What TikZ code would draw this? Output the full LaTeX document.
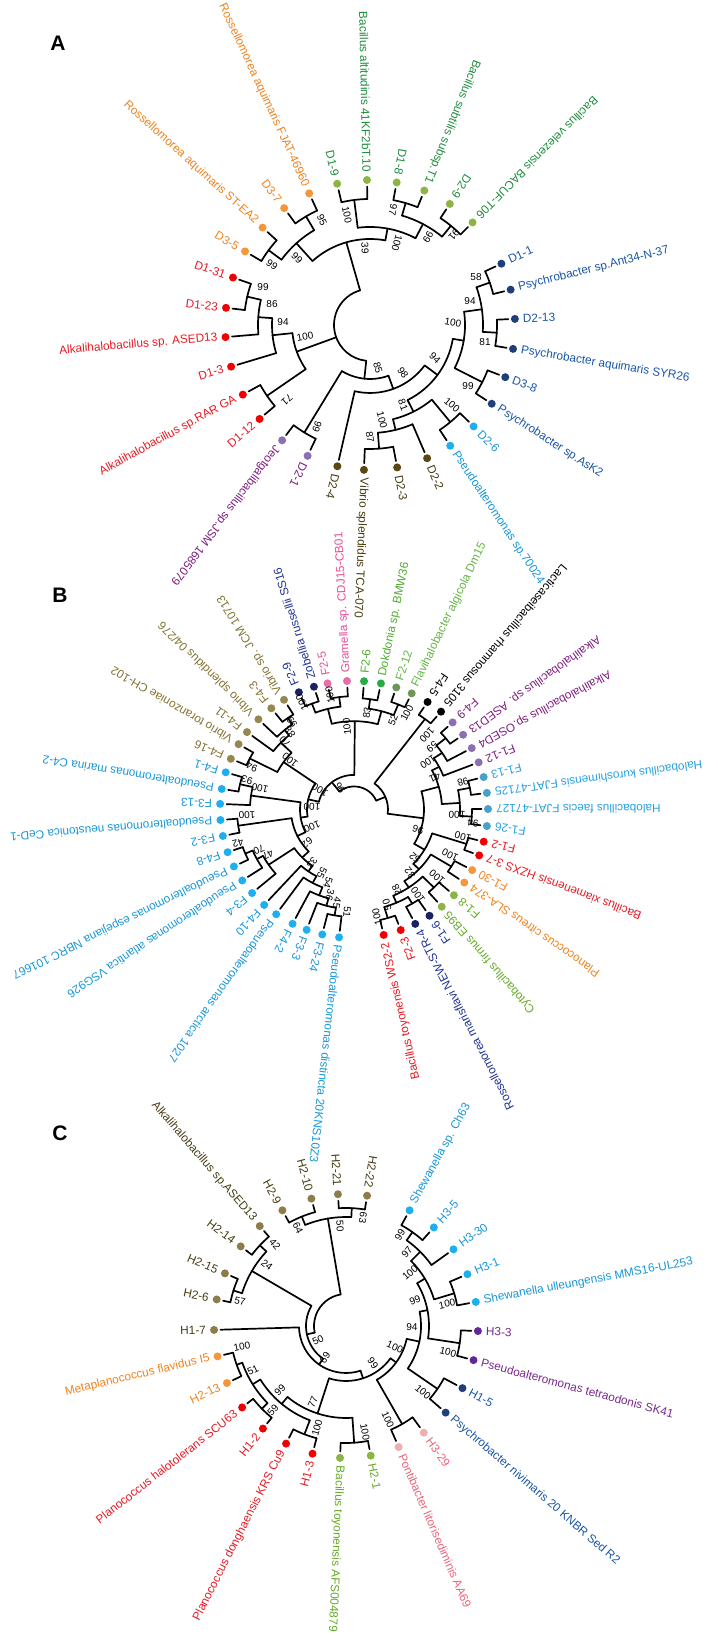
\documentclass[tikz,border=0pt]{standalone}
\usepackage{fontspec}
\setmainfont{Liberation Sans}
\definecolor{gAd}{RGB}{141,180,69}\definecolor{gAt}{RGB}{30,140,60}
\definecolor{bAd}{RGB}{31,63,122}\definecolor{bAt}{RGB}{25,85,165}
\definecolor{cyd}{RGB}{30,175,240}\definecolor{cyt}{RGB}{25,150,215}
\definecolor{vAd}{RGB}{90,72,20}\definecolor{vAt}{RGB}{70,60,15}
\definecolor{pAd}{RGB}{140,110,180}\definecolor{pAt}{RGB}{125,30,125}
\definecolor{rd}{RGB}{240,0,0}\definecolor{rt}{RGB}{230,25,35}
\definecolor{ord}{RGB}{245,150,60}\definecolor{ort}{RGB}{240,130,30}
\definecolor{olBd}{RGB}{150,135,80}\definecolor{olBt}{RGB}{130,115,50}
\definecolor{nvd}{RGB}{25,35,95}\definecolor{nvt}{RGB}{30,50,150}
\definecolor{pkd}{RGB}{230,110,170}\definecolor{pkt}{RGB}{230,80,150}
\definecolor{gnd}{RGB}{40,170,70}\definecolor{gnt}{RGB}{80,170,50}
\definecolor{ggd}{RGB}{110,150,90}\definecolor{ggt}{RGB}{100,180,70}
\definecolor{hbd}{RGB}{70,160,200}\definecolor{hbt}{RGB}{40,160,220}
\definecolor{lgd}{RGB}{140,180,70}\definecolor{lgt}{RGB}{100,170,40}
\definecolor{olCd}{RGB}{140,125,75}\definecolor{olCt}{RGB}{70,60,20}
\definecolor{pnd}{RGB}{240,175,175}\definecolor{pnt}{RGB}{235,100,120}
\definecolor{puCd}{RGB}{100,40,150}\definecolor{puCt}{RGB}{120,40,140}
\newcommand\lfW[6]{%
  \node[dot,fill=#4] (#1) at (#2:\R) {};
  \node[lbl,text=#5,anchor=west,rotate=#2] (#1-t) at (#2:{\R+8}) {#6};
  \draw[br] (#1) -- (#2:#3);}
\newcommand\lfE[6]{%
  \node[dot,fill=#4] (#1) at (#2:\R) {};
  \node[lbl,text=#5,anchor=east,rotate={#2+180}] (#1-t) at (#2:{\R+8}) {#6};
  \draw[br] (#1) -- (#2:#3);}
\newcommand\cl[5]{%
  \draw[br] (#1:#3) arc[start angle=#1, end angle=#2, radius=#3];
  \draw[br] (#4:#3) -- (#4:#5);}
\newcommand\bs[5]{\node[bsl,rotate=#4] (#1) at (#2,#3) {#5};}
\begin{document}
\begin{tikzpicture}[x=1pt,y=1pt,
  br/.style={line width=1.7pt,black,line cap=round},
  dot/.style={circle,inner sep=0pt,minimum size=8pt,outer sep=2.5pt,draw=none},
  lbl/.style={inner sep=0pt,font=\fontsize{11.8}{12}\selectfont},
  bsl/.style={inner sep=0pt,font=\fontsize{10}{11}\selectfont},
  ttl/.style={font=\fontsize{21}{24}\selectfont\bfseries}]
\useasboundingbox (0,0) rectangle (717,1637);
\node[ttl] (tA) at (58,1594) {A};
\node[ttl] (tB) at (60,1042) {B};
\node[ttl] (tC) at (60,504) {C};
% ================= A =================
\begin{scope}[shift={(370,1312)}]
\def\R{145}
\lfE{aD19}{103.1}{126}{gAd}{gAt}{D1-9}
\lfE{aAlt}{91.2}{126}{gAd}{gAt}{Bacillus altitudinis 41KF2bT.10}
\lfE{aD18}{79.4}{127}{gAd}{gAt}{D1-8}
\lfE{aSub}{68}{127}{gAd}{gAt}{Bacillus subtilis subsp.T1}
\lfE{aD29}{56.6}{128}{gAd}{gAt}{D2-9}
\lfE{aVel}{45}{128}{gAd}{gAt}{Bacillus velezensis BACUF-T06}
\lfW{aD11}{25}{127}{bAd}{bAt}{D1-1}
\lfW{aAnt}{14.1}{127}{bAd}{bAt}{Psychrobacter sp.Ant34-N-37}
\lfW{aD213}{2.4}{127}{bAd}{bAt}{D2-13}
\lfW{aSYR}{-9.5}{127}{bAd}{bAt}{Psychrobacter aquimaris SYR26}
\lfW{aD38}{-21.1}{126}{bAd}{bAt}{D3-8}
\lfW{aAsK}{-32.9}{126}{bAd}{bAt}{Psychrobacter sp.AsK2}
\lfW{aD26}{-44.4}{126}{cyd}{cyt}{D2-6}
\lfW{aPs}{-56.4}{126}{cyd}{cyt}{Pseudoalteromonas sp.70024}
\lfW{aD22}{-66.8}{108}{vAd}{vAt}{D2-2}
\lfW{aD23}{-79.2}{124}{vAd}{vAt}{D2-3}
\lfW{aTCA}{-92.4}{124}{vAd}{vAt}{Vibrio splendidus TCA-070}
\lfW{aD24}{-103}{68}{vAd}{vAt}{D2-4}
\lfW{aD21}{-115.5}{126}{pAd}{pAt}{D2-1}
\lfW{aJeo}{-127.3}{126}{pAd}{pAt}{Jeotgalibacillus sp.JSM 1685079}
\lfE{aD112}{220.4}{125}{rd}{rt}{D1-12}
\lfE{aRAR}{208.7}{125}{rd}{rt}{Alkalihalobacillus sp.RAR GA}
\lfE{aD13}{196.7}{98}{rd}{rt}{D1-3}
\lfE{aASE}{184.8}{112}{rd}{rt}{Alkalihalobacillus sp. ASED13}
\lfE{aD123}{173.2}{126}{rd}{rt}{D1-23}
\lfE{aD131}{160.9}{126}{rd}{rt}{D1-31}
\lfE{aD35}{149.5}{126}{ord}{ort}{D3-5}
\lfE{aST}{137.8}{126}{ord}{ort}{Rossellomorea aquimaris ST-EA2}
\lfE{aD37}{126.3}{126}{ord}{ort}{D3-7}
\lfE{aFJ}{114.8}{126}{ord}{ort}{Rossellomorea aquimaris FJAT-46960}
\cl{91.2}{103.1}{126}{97.2}{98}
\cl{68}{79.4}{127}{73.7}{114}
\cl{45}{56.6}{128}{50.8}{114}
\cl{50.8}{73.7}{114}{62.3}{98}
\cl{62.3}{97.2}{98}{79.7}{86}
\cl{137.8}{149.5}{126}{143.6}{110}
\cl{114.8}{126.3}{126}{120.5}{110}
\cl{120.5}{143.6}{110}{132}{86}
\cl{79.7}{132}{86}{106}{36}
\cl{160.9}{173.2}{126}{167}{112}
\cl{167}{184.8}{112}{176}{98}
\cl{176}{196.7}{98}{186}{78}
\cl{208.7}{220.4}{125}{214.5}{78}
\cl{186}{214.5}{78}{200}{36}
\cl{232.7}{244.5}{126}{238.6}{54}
\cl{14.1}{25}{127}{19.5}{113}
\cl{-9.5}{2.4}{127}{-3.5}{113}
\cl{-3.5}{19.5}{113}{8}{95}
\cl{-32.9}{-21.1}{126}{-27}{95}
\cl{-27}{8}{95}{-9.5}{84}
\cl{-56.4}{-44.4}{126}{-50.4}{97}
\cl{-92.4}{-79.2}{124}{-85.8}{108}
\cl{-85.8}{-66.8}{108}{-76.3}{97}
\cl{-76.3}{-50.4}{97}{-63.4}{84}
\cl{-63.4}{-9.5}{84}{-36.5}{68}
\cl{-103}{-36.5}{68}{-70}{54}
\cl{-121.4}{-70}{54}{-96}{36}
\draw[br] (106:36) arc[start angle=106, end angle=264, radius=36];
\end{scope}
\bs{bA1}{322}{1417}{-65}{95}
\bs{bA2}{297}{1379}{-45}{99}
\bs{bA3}{272}{1372}{-35}{99}
\bs{bA4}{347}{1422}{-78}{100}
\bs{bA5}{393}{1427}{-100}{97}
\bs{bA6}{428}{1400}{-120}{99}
\bs{bA7}{454}{1402}{-130}{91}
\bs{bA8}{397}{1394}{-105}{100}
\bs{bA9}{365}{1389}{-88}{39}
\bs{bA10}{476}{1360}{0}{58}
\bs{bA11}{263}{1350}{0}{99}
\bs{bA12}{272}{1333}{0}{86}
\bs{bA13}{283}{1315}{0}{94}
\bs{bA14}{305}{1300}{10}{100}
\bs{bA15}{287}{1237}{-140}{71}
\bs{bA16}{317}{1210}{-110}{99}
\bs{bA17}{470}{1336}{0}{94}
\bs{bA18}{453}{1314}{-10}{100}
\bs{bA19}{485}{1295}{0}{81}
\bs{bA20}{435}{1279}{-45}{94}
\bs{bA21}{403}{1264}{-55}{98}
\bs{bA22}{378}{1269}{-75}{85}
\bs{bA23}{468}{1251}{0}{99}
\bs{bA24}{452}{1232}{-40}{100}
\bs{bA25}{403}{1232}{-70}{81}
\bs{bA26}{382}{1217}{-75}{100}
\bs{bA27}{370}{1200}{-80}{87}
% ================= B =================
\begin{scope}[shift={(354,827.5)},yscale=0.96]
\def\R{134}
\lfW{bGra}{93}{118}{pkd}{pkt}{Gramella sp. CDJ15-CB01}
\lfW{bF25}{101.4}{118}{pkd}{pkt}{F2-5}
\lfW{bZob}{107.4}{118}{nvd}{nvt}{Zobellia russellii SS16}
\lfW{bF29}{114.3}{118}{nvd}{nvt}{F2-9}
\lfW{bJCM}{121.5}{116}{olBd}{olBt}{Vibrio sp. JCM 10713}
\lfW{bF43}{128.1}{116}{olBd}{olBt}{F4-3}
\lfW{bVsp}{135.5}{108}{olBd}{olBt}{Vibrio splendidus 04/276}
\lfW{bF411}{143}{101}{olBd}{olBt}{F4-11}
\lfW{bVto}{149.5}{117}{olBd}{olBt}{Vibrio toranzoniae CH-102}
\lfW{bF416}{156.8}{117}{olBd}{olBt}{F4-16}
\lfW{bF41}{163.2}{117}{cyd}{cyt}{F4-1}
\lfW{bPma}{170.8}{117}{cyd}{cyt}{Pseudoalteromonas marina C4-2}
\lfW{bF313}{177.5}{104}{cyd}{cyt}{F3-13}
\lfW{bPne}{184.7}{117}{cyd}{cyt}{Pseudoalteromonas neustonica CeD-1}
\lfW{bF32}{191.9}{117}{cyd}{cyt}{F3-2}
\lfW{bF48}{199.4}{118}{cyd}{cyt}{F4-8}
\lfW{bPes}{206.3}{118}{cyd}{cyt}{Pseudoalteromonas espejiana NBRC 101667}
\lfW{bPat}{213.5}{110}{cyd}{cyt}{Pseudoalteromonas atlantica VSG926}
\lfW{bF34}{220.5}{103}{cyd}{cyt}{F3-4}
\lfW{bF410}{227.9}{79}{cyd}{cyt}{F4-10}
\lfW{bPar}{234.5}{87}{cyd}{cyt}{Pseudoalteromonas arctica 1027}
\lfW{bF42}{242.7}{96}{cyd}{cyt}{F4-2}
\lfW{bF33}{249.3}{104}{cyd}{cyt}{F3-3}
\lfW{bF324}{256.3}{112}{cyd}{cyt}{F3-24}
\lfW{bPdi}{263.6}{112}{cyd}{cyt}{Pseudoalteromonas distincta 20KNS10Z3}
\lfE{bWS}{-77.2}{118}{rd}{rt}{Bacillus toyonensis WS2-2}
\lfE{bF23}{-69.6}{118}{rd}{rt}{F2-3}
\lfE{bNEW}{-62.8}{114}{nvd}{nvt}{Rossellomorea marisflavi NEW-STR-4}
\lfE{bF16}{-55.7}{114}{nvd}{nvt}{F1-6}
\lfE{bEB}{-49.1}{114}{lgd}{lgt}{Cytobacillus firmus EB95}
\lfE{bF18}{-41.8}{114}{lgd}{lgt}{F1-8}
\lfE{bSLA}{-34.6}{114}{ord}{ort}{Planococcus citreus SLA-374}
\lfE{bF130}{-28.1}{114}{ord}{ort}{F1-30}
\lfE{bHZ}{-20.9}{118}{rd}{rt}{Bacillus xiamenensis HZXS 3-7}
\lfE{bF12}{-14.5}{118}{rd}{rt}{F1-2}
\lfE{bF126}{-7.4}{118}{hbd}{hbt}{F1-26}
\lfE{bHfa}{0.2}{118}{hbd}{hbt}{Halobacillus faecis FJAT-47127}
\lfE{bHku}{7.4}{118}{hbd}{hbt}{Halobacillus kuroshimensis FJAT-47125}
\lfE{bF113}{14.6}{118}{hbd}{hbt}{F1-13}
\lfE{bF112}{21.5}{96}{pAd}{pAt}{F1-12}
\lfE{bOSE}{28.5}{106}{pAd}{pAt}{Alkalihalobacillus sp.OSED4}
\lfE{bASE}{35.5}{118}{pAd}{pAt}{Alkalihalobacillus sp. ASED13}
\lfE{bF49}{42.6}{118}{pAd}{pAt}{F4-9}
\lfE{bLac}{49.5}{118}{black}{black}{Lacticaseibacillus rhamnosus 3105}
\lfE{bF45}{56.7}{118}{black}{black}{F4-5}
\lfW{bFla}{64.5}{118}{ggd}{ggt}{Flavihalobacter algicola Dm15}
\lfW{bF212}{71.6}{118}{ggd}{ggt}{F2-12}
\lfW{bDok}{78.4}{116}{gnd}{gnt}{Dokdonia sp. BMW36}
\lfW{bF26}{85.7}{116}{gnd}{gnt}{F2-6}
% top group
\cl{107.4}{114.3}{118}{110.9}{108}
\cl{93}{101.4}{118}{97.2}{108}
\cl{97.2}{110.9}{108}{104}{92}
\cl{78.4}{85.7}{116}{82}{106}
\cl{64.5}{71.6}{118}{68}{106}
\cl{68}{82}{106}{75}{92}
\cl{75}{104}{92}{89.5}{36}
% vibrio
\cl{121.5}{128.1}{116}{124.8}{108}
\cl{124.8}{135.5}{108}{130}{101}
\cl{130}{143}{101}{136.5}{86}
\cl{149.5}{156.8}{117}{153}{86}
\cl{136.5}{153}{86}{145}{47}
% pseudoalteromonas
\cl{163.2}{170.8}{117}{167}{104}
\cl{167}{177.5}{104}{172}{54}
\cl{184.7}{191.9}{117}{188.3}{63}
\cl{199.4}{206.3}{118}{202.9}{110}
\cl{202.9}{213.5}{110}{208}{103}
\cl{208}{220.5}{103}{214}{72}
\cl{256.3}{263.6}{112}{260}{104}
\cl{249.3}{260}{104}{254.6}{96}
\cl{242.7}{254.6}{96}{248.7}{87}
\cl{234.5}{248.7}{87}{241.6}{79}
\cl{227.9}{241.6}{79}{234.7}{72}
\cl{214}{234.7}{72}{224}{63}
\cl{188.3}{224}{63}{206}{54}
\cl{172}{206}{54}{189}{47}
\cl{145}{189}{47}{167}{36}
\cl{89.5}{167}{36}{128}{24}
% right side
\cl{35.5}{42.6}{118}{39}{106}
\cl{28.5}{39}{106}{33.8}{96}
\cl{21.5}{33.8}{96}{27.6}{88}
\cl{7.4}{14.6}{118}{11}{106}
\cl{-7.4}{0.2}{118}{-3.6}{106}
\cl{-3.6}{11}{106}{3.7}{88}
\cl{3.7}{27.6}{88}{15.6}{70}
\cl{-20.9}{-14.5}{118}{-17.7}{82}
\cl{-34.6}{-28.1}{114}{-31.4}{90}
\cl{-49.1}{-41.8}{114}{-45.5}{98}
\cl{-62.8}{-55.7}{114}{-59.3}{106}
\cl{-77.2}{-69.6}{118}{-73.4}{106}
\cl{-73.4}{-59.3}{106}{-66.4}{98}
\cl{-66.4}{-45.5}{98}{-56}{90}
\cl{-56}{-31.4}{90}{-43.7}{82}
\cl{-43.7}{-17.7}{82}{-30.7}{70}
\cl{-30.7}{15.6}{70}{-7.5}{34}
\cl{49.5}{56.7}{118}{53}{34}
\cl{-7.5}{53}{34}{22.7}{24}
\draw[br] (22.7:24) arc[start angle=22.7, end angle=128, radius=24];
\end{scope}
\bs{bB1}{302}{935}{115}{100}
\bs{bB2}{330}{942}{101}{100}
\bs{bB3}{347}{910}{95}{100}
\bs{bB4}{292}{915}{124}{99}
\bs{bB5}{290}{905}{128}{88}
\bs{bB6}{285}{895}{134}{70}
\bs{bB7}{290}{877}{141}{100}
\bs{bB8}{252}{870}{156}{94}
\bs{bB9}{247}{857}{164}{93}
\bs{bB10}{260}{849}{167}{100}
\bs{bB11}{247}{822}{183}{100}
\bs{bB12}{312}{830}{177}{100}
\bs{bB13}{340}{849}{122}{96}
\bs{bB14}{320}{847}{149}{100}
\bs{bB15}{312}{810}{203}{100}
\bs{bB16}{307}{794}{217}{62}
\bs{bB17}{238}{794}{197}{42}
\bs{bB18}{259}{787}{204}{70}
\bs{bB19}{268}{782}{209}{47}
\bs{bB20}{312}{774}{233}{33}
\bs{bB21}{322}{764}{244}{55}
\bs{bB22}{328}{754}{251}{54}
\bs{bB23}{330}{742}{255}{36}
\bs{bB24}{337}{734}{260}{45}
\bs{bB25}{347}{725}{266}{51}
\bs{bB26}{367}{924}{83}{83}
\bs{bB27}{393}{917}{67}{52}
\bs{bB28}{407}{924}{62}{100}
\bs{bB29}{427}{902}{227}{100}
\bs{bB30}{432}{890}{220}{59}
\bs{bB31}{428}{875}{214}{100}
\bs{bB32}{435}{859}{202}{41}
\bs{bB33}{463}{855}{195}{98}
\bs{bB34}{457}{822}{177}{100}
\bs{bB35}{473}{814}{173}{94}
\bs{bB36}{418}{807}{161}{96}
\bs{bB37}{463}{800}{165}{100}
\bs{bB38}{415}{779}{140}{52}
\bs{bB39}{450}{782}{154}{100}
\bs{bB40}{410}{764}{130}{32}
\bs{bB41}{437}{760}{140}{100}
\bs{bB42}{397}{747}{117}{28}
\bs{bB43}{418}{742}{126}{100}
\bs{bB44}{387}{732}{108}{50}
\bs{bB45}{377}{720}{102}{100}
% ================= C =================
\begin{scope}[shift={(346,311)}]
\def\R{132}
\lfE{cH221}{93.5}{118}{olCd}{olCt}{H2-21}
\lfE{cH210}{105.2}{118}{olCd}{olCt}{H2-10}
\lfE{cH29}{118.8}{118}{olCd}{olCt}{H2-9}
\lfE{cASE}{130.8}{118}{olCd}{olCt}{Alkalihalobacillus sp.ASED13}
\lfE{cH214}{142.9}{118}{olCd}{olCt}{H2-14}
\lfE{cH215}{156.5}{118}{olCd}{olCt}{H2-15}
\lfE{cH26}{168.4}{118}{olCd}{olCt}{H2-6}
\lfE{cH17}{181.7}{47}{olCd}{olCt}{H1-7}
\lfE{cMet}{193.3}{116}{ord}{ort}{Metaplanococcus flavidus I5}
\lfE{cH213}{205.6}{116}{ord}{ort}{H2-13}
\lfE{cPha}{218.1}{118}{rd}{rt}{Planococcus halotolerans SCU63}
\lfE{cH12}{231}{118}{rd}{rt}{H1-2}
\lfE{cPdo}{243}{116}{rd}{rt}{Planococcus donghaensis KRS Cu9}
\lfE{cH13}{255.3}{116}{rd}{rt}{H1-3}
\lfW{cBto}{267.4}{117}{lgd}{lgt}{Bacillus toyonensis AFS004879}
\lfW{cH21}{280.8}{117}{lgd}{lgt}{H2-1}
\lfW{cPon}{293.5}{113}{pnd}{pnt}{Pontibacter litorisediminis AA69}
\lfW{cH329}{306.1}{113}{pnd}{pnt}{H3-29}
\lfW{cPni}{319}{111}{bAd}{bAt}{Psychrobacter nivimaris 20 KNBR Sed R2}
\lfW{cH15}{331.9}{111}{bAd}{bAt}{H1-5}
\lfW{cPte}{345}{115}{puCd}{puCt}{Pseudoalteromonas tetraodonis SK41}
\lfW{cH33}{357.8}{115}{puCd}{puCt}{H3-3}
\lfW{cSul}{10.5}{113}{cyd}{cyt}{Shewanella ulleungensis MMS16-UL253}
\lfW{cH31}{23.1}{113}{cyd}{cyt}{H3-1}
\lfW{cH330}{35.5}{105}{cyd}{cyt}{H3-30}
\lfW{cH35}{48.3}{115}{cyd}{cyt}{H3-5}
\lfW{cSh}{61.2}{115}{cyd}{cyt}{Shewanella sp. Ch63}
\lfE{cH222}{80.8}{118}{olCd}{olCt}{H2-22}
\cl{105.2}{118.8}{118}{112}{109}
\cl{80.8}{93.5}{118}{87.2}{109}
\cl{87.2}{112}{109}{99.6}{32}
\cl{130.8}{142.9}{118}{136.9}{109}
\cl{156.5}{168.4}{118}{162.5}{109}
\cl{136.9}{162.5}{109}{149.7}{40}
\cl{193.3}{205.6}{116}{199.5}{110}
\cl{218.1}{231}{118}{224.5}{110}
\cl{199.5}{224.5}{110}{212}{101}
\cl{243}{255.3}{116}{249}{101}
\cl{212}{249}{101}{230.5}{92}
\cl{267.4}{280.8}{117}{274}{92}
\cl{230.5}{274}{92}{252}{55}
\cl{293.5}{306.1}{113}{299.8}{62}
\cl{319}{331.9}{111}{325.5}{75}
\cl{345}{357.8}{115}{351.4}{83}
\cl{48.3}{61.2}{115}{54.7}{105}
\cl{35.5}{54.7}{105}{45}{92}
\cl{10.5}{23.1}{113}{16.8}{92}
\cl{16.8}{45}{92}{31}{83}
\cl{-8.6}{31}{83}{11}{75}
\cl{-34.5}{11}{75}{-12}{62}
\cl{-60.2}{-12}{62}{-36}{55}
\cl{-108}{-36}{55}{-72}{47}
\cl{181.7}{288}{47}{235}{40}
\cl{149.7}{235}{40}{192}{32}
\draw[br] (99.6:32) arc[start angle=99.6, end angle=192, radius=32];
\end{scope}
\bs{bC1}{298}{409}{296}{64}
\bs{bC2}{340}{411}{273}{50}
\bs{bC3}{275}{393}{311}{42}
\bs{bC4}{267}{372}{322}{24}
\bs{bC5}{240}{336}{347}{57}
\bs{bC6}{318}{297}{27}{50}
\bs{bC7}{325}{279}{57}{69}
\bs{bC8}{242}{290}{11}{100}
\bs{bC9}{253}{267}{25}{51}
\bs{bC10}{280}{247}{44}{99}
\bs{bC11}{273}{227}{49}{59}
\bs{bC12}{313}{235}{67}{77}
\bs{bC13}{317}{209}{74}{100}
\bs{bC14}{373}{274}{-54}{99}
\bs{bC15}{423}{245}{-41}{100}
\bs{bC16}{388}{217}{-66}{100}
\bs{bC17}{365}{205}{-80}{100}
\bs{bC18}{363}{419}{261}{63}
\bs{bC19}{400}{402}{59}{99}
\bs{bC20}{407}{385}{50}{97}
\bs{bC21}{410}{364}{40}{100}
\bs{bC22}{415}{337}{21}{99}
\bs{bC23}{412}{310}{-1}{94}
\bs{bC24}{395}{290}{-23}{100}
\bs{bC25}{447}{333}{12}{100}
\bs{bC26}{448}{285}{-14}{100}
\end{tikzpicture}
\end{document}
